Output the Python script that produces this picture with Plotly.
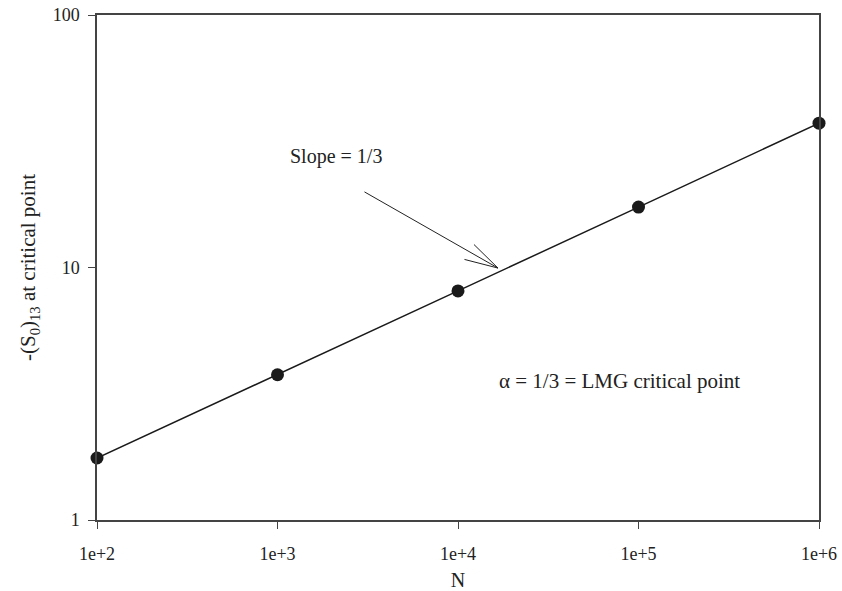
import plotly.graph_objects as go
import math

N = [1e2, 1e3, 1e4, 1e5, 1e6]
S13 = [1.76, 3.76, 8.08, 17.35, 37.3]
x_tickvals = [1e2, 1e3, 1e4, 1e5, 1e6]
x_ticktext = ["1e+2", "1e+3", "1e+4", "1e+5", "1e+6"]
y_tickvals = [1, 10, 100]
y_ticktext = ["1", "10", "100"]

FONT = "Liberation Serif, Times New Roman, serif"
fig = go.Figure()
fig.add_trace(go.Scatter(
    x=N, y=S13, mode="lines+markers",
    line=dict(color="#1a1a1a", width=1.5),
    marker=dict(color="#1a1a1a", size=13),
    showlegend=False, cliponaxis=False))

axis_common = dict(showgrid=False, zeroline=False, showline=True, linecolor="#444",
                   linewidth=1.5, mirror=True, ticks="outside", ticklen=7, tickwidth=1,
                   tickcolor="#444", automargin=False,
                   tickfont=dict(family=FONT, size=18, color="#222"))
fig.update_xaxes(type="log", range=[2, 6], tickvals=x_tickvals, ticktext=x_ticktext,
                 title=dict(text="N", font=dict(family=FONT, size=20, color="#222"), standoff=10),
                 ticklabelstandoff=10, **axis_common)
fig.update_yaxes(type="log", range=[0, 2], tickvals=y_tickvals, ticktext=y_ticktext,
                 title=dict(text="-(S<sub>0</sub>)<sub>13</sub> at critical point",
                            font=dict(family=FONT, size=21, color="#222"), standoff=11),
                 ticklabelstandoff=5, **axis_common)

# arrow tip in log coords; shaft + open head drawn as arrow-less annotation lines
tip_x = math.log10(1.665e4)
tip_y = math.log10(9.95)
for ax, ay in [(-135, -77), (-25.5, -25), (-35, -9)]:
    fig.add_annotation(x=tip_x, y=tip_y, xref="x", yref="y", text="", showarrow=True,
                       arrowhead=0, arrowwidth=1, arrowcolor="#222", ax=ax, ay=ay,
                       standoff=0, startstandoff=0)

fig.add_annotation(x=math.log10(2.1e3), y=math.log10(27.4), xref="x", yref="y",
                   text="Slope = 1/3", showarrow=False,
                   font=dict(family=FONT, size=20, color="#222"))
fig.add_annotation(x=math.log10(7.85e4), y=math.log10(3.55), xref="x", yref="y",
                   text="α = 1/3 = LMG critical point", showarrow=False,
                   font=dict(family=FONT, size=21, color="#222"))

fig.update_layout(width=842, height=591, margin=dict(l=97, r=23, t=15, b=71),
                  plot_bgcolor="white", paper_bgcolor="white",
                  font=dict(family=FONT))
fig.write_html("out.html", config={"displayModeBar": False},
               post_script="document.body.style.margin='0';")
